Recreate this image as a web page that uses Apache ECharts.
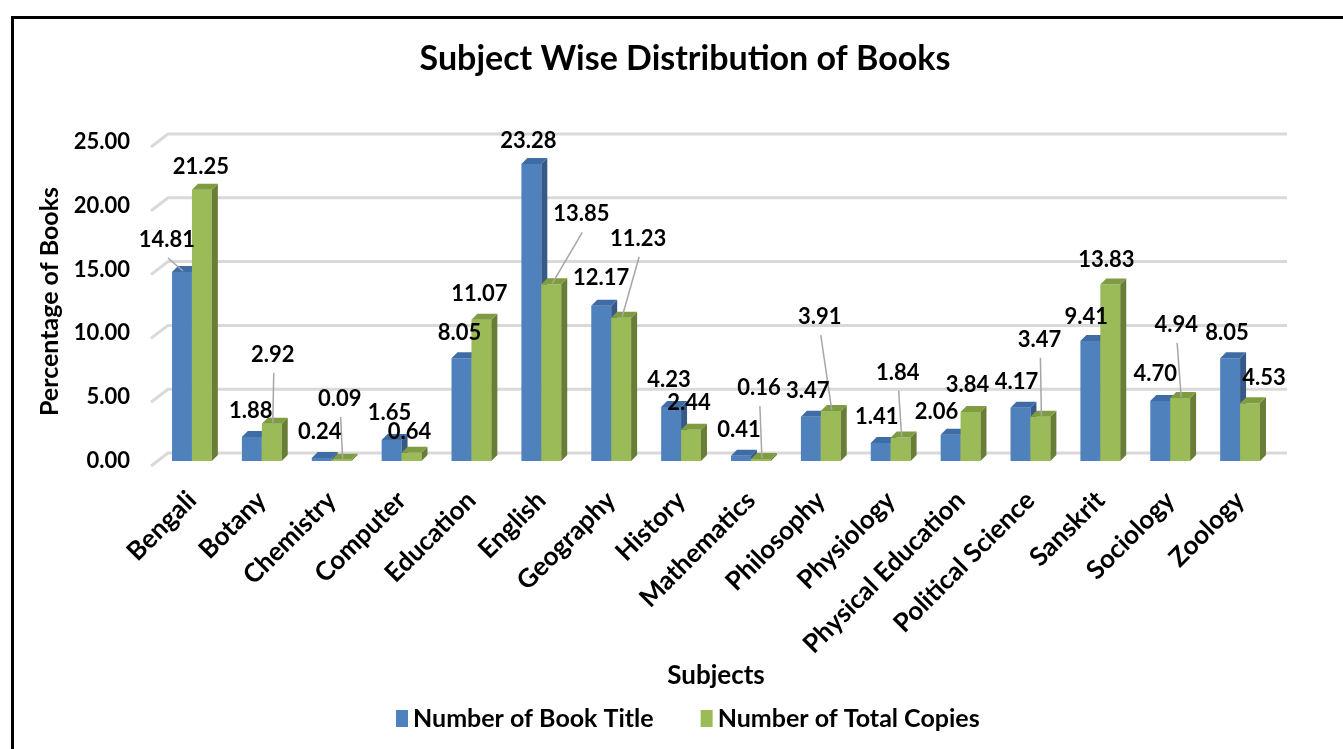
<!DOCTYPE html>
<html>
<head>
<meta charset="utf-8">
<script src="https://cdn.jsdelivr.net/npm/echarts@6/dist/echarts.min.js"></script>
<style>
html,body{margin:0;padding:0;background:#fff;}
#chart{width:1343px;height:749px;}
</style>
</head>
<body>
<div id="chart"></div>
<script>
const categories = ["Bengali","Botany","Chemistry","Computer","Education","English","Geography","History","Mathematics","Philosophy","Physiology","Physical Education","Political Science","Sanskrit","Sociology","Zoology"];
const bookTitle = [14.81,1.88,0.24,1.65,8.05,23.28,12.17,4.23,0.41,3.47,1.41,2.06,4.17,9.41,4.70,8.05];
const totalCopies = [21.25,2.92,0.09,0.64,11.07,13.85,11.23,2.44,0.16,3.91,1.84,3.84,3.47,13.83,4.94,4.53];
const yTicks = [0,5,10,15,20,25];
const seriesNames = ["Number of Book Title","Number of Total Copies"];

// label offsets relative to bar top-centre: [dx, dy, leaderLine]
const bookTitleLabelOffsets = [[-15,-32,1],[-1,-26,0],[-2,-26,0],[-2,-27,0],[-2,-25,0],[-3,-23,0],[0,-28,0],[-2,-27,0],[-2,-26,0],[-3,-26,0],[-4,-26,0],[-14,-23,0],[-4,-26,0],[-4,-24,0],[-5,-27,0],[-3,-25,0]];
const totalCopiesLabelOffsets = [[-1,-23,0],[1,-69,1],[-2,-61,1],[-2,-21,0],[-2,-26,0],[30,-70,1],[17,-79,1],[-2,-27,0],[-2,-71,1],[-11,-94,1],[-3,-65,1],[-3,-27,0],[-1,-77,1],[-4,-25,0],[-4,-73,1],[14,-25,0]];

const FONT = 'Lato';
const palettes = [
  {front:'#4f81bd', side:'#36598a', top:'#3f6ca4'},
  {front:'#9bbb59', side:'#687d36', top:'#7f9c42'}
];

function barRenderer(sIdx, offsets) {
  const pal = palettes[sIdx];
  return function(params, api) {
    const i = api.value(0), v = api.value(1);
    const base = api.coord([i, 0]);
    const top = api.coord([i, v]);
    const cw = api.size([1, 0])[0];
    const bw = cw * 0.285;
    const x0 = base[0] + (sIdx === 0 ? -bw : 0);
    const x1 = x0 + bw;
    const yT = top[1], yB = base[1];
    const dx = 6, dy = 6;
    const off = offsets[params.dataIndex];
    const cx = x0 + bw / 2;
    const lx = cx + off[0], ly = yT + off[1];
    const children = [
      {type:'rect', shape:{x:x0, y:yT, width:bw, height:yB - yT}, style:{fill:pal.front}, z2:1},
      {type:'polygon', shape:{points:[[x1,yT],[x1+dx,yT-dy],[x1+dx,yB-dy],[x1,yB]]}, style:{fill:pal.side}, z2:1},
      {type:'polygon', shape:{points:[[x0,yT],[x0+dx,yT-dy],[x1+dx,yT-dy],[x1,yT]]}, style:{fill:pal.top}, z2:1}
    ];
    if (off[2]) {
      children.push({type:'line', shape:{x1:lx+1, y1:ly+18, x2:cx+1, y2:yT-1}, style:{stroke:'#a6a6a6', lineWidth:1.5}, z2:50});
    }
    children.push({type:'text', z2:100, style:{text:v.toFixed(2), x:lx, y:ly, textAlign:'center', textVerticalAlign:'middle', fill:'#000', font:'bold 22px ' + FONT}});
    return {type:'group', children:children};
  };
}

function gridRenderer(params, api) {
  const p = api.coord([0, api.value(1)]);
  const cs = params.coordSys;
  const y = p[1];
  return {type:'polyline', shape:{points:[[cs.x-6, y+5],[cs.x+11, y-8],[cs.x+cs.width+12, y-8]]}, style:{stroke:'#d9d9d9', lineWidth:3, fill:null}};
}

const chart = echarts.init(document.getElementById('chart'), null, {renderer:'canvas'});
chart.setOption({
  animation:false,
  backgroundColor:'#fff',
  graphic:[{type:'rect', left:10, top:15, shape:{width:1400, height:800}, style:{fill:'none', stroke:'#000', lineWidth:3}, z:-1}],
  title:{text:'Subject Wise Distribution of Books', left:680, textAlign:'center', top:37, textStyle:{fontFamily:FONT, fontWeight:'bold', fontSize:34, color:'#000'}},
  legend:{data:seriesNames, bottom:13, left:391, icon:'rect', itemWidth:12, itemHeight:17, itemGap:47, textStyle:{fontFamily:FONT, fontWeight:'bold', fontSize:25, color:'#000'}},
  grid:{left:157, right:68, top:142, bottom:288, containLabel:false},
  xAxis:{type:'category', data:categories, axisLine:{show:false}, axisTick:{show:false},
    axisLabel:{interval:0, rotate:45, margin:35, fontFamily:FONT, fontWeight:'bold', fontSize:26, color:'#000'},
    name:'Subjects', nameLocation:'middle', nameGap:202, nameTextStyle:{fontFamily:FONT, fontWeight:'bold', fontSize:26, color:'#000'}},
  yAxis:{type:'value', min:0, max:25, interval:5, axisLine:{show:false}, axisTick:{show:false}, splitLine:{show:false},
    axisLabel:{margin:27, formatter:function(v){return v.toFixed(2);}, fontFamily:FONT, fontWeight:'bold', fontSize:22, color:'#000'},
    name:'Percentage of Books', nameLocation:'middle', nameGap:80, nameTextStyle:{fontFamily:FONT, fontWeight:'bold', fontSize:25, color:'#000'}},
  series:[
    {type:'custom', name:'grid', silent:true, z:1, renderItem:gridRenderer, data:yTicks.map(function(v){return [0, v];}), encode:{x:0, y:1}},
    {type:'custom', name:seriesNames[0], z:2, itemStyle:{color:palettes[0].front}, renderItem:barRenderer(0, bookTitleLabelOffsets), data:bookTitle.map(function(v,i){return [i, v];}), encode:{x:0, y:1}},
    {type:'custom', name:seriesNames[1], z:2, itemStyle:{color:palettes[1].front}, renderItem:barRenderer(1, totalCopiesLabelOffsets), data:totalCopies.map(function(v,i){return [i, v];}), encode:{x:0, y:1}}
  ]
});
</script>
</body>
</html>
